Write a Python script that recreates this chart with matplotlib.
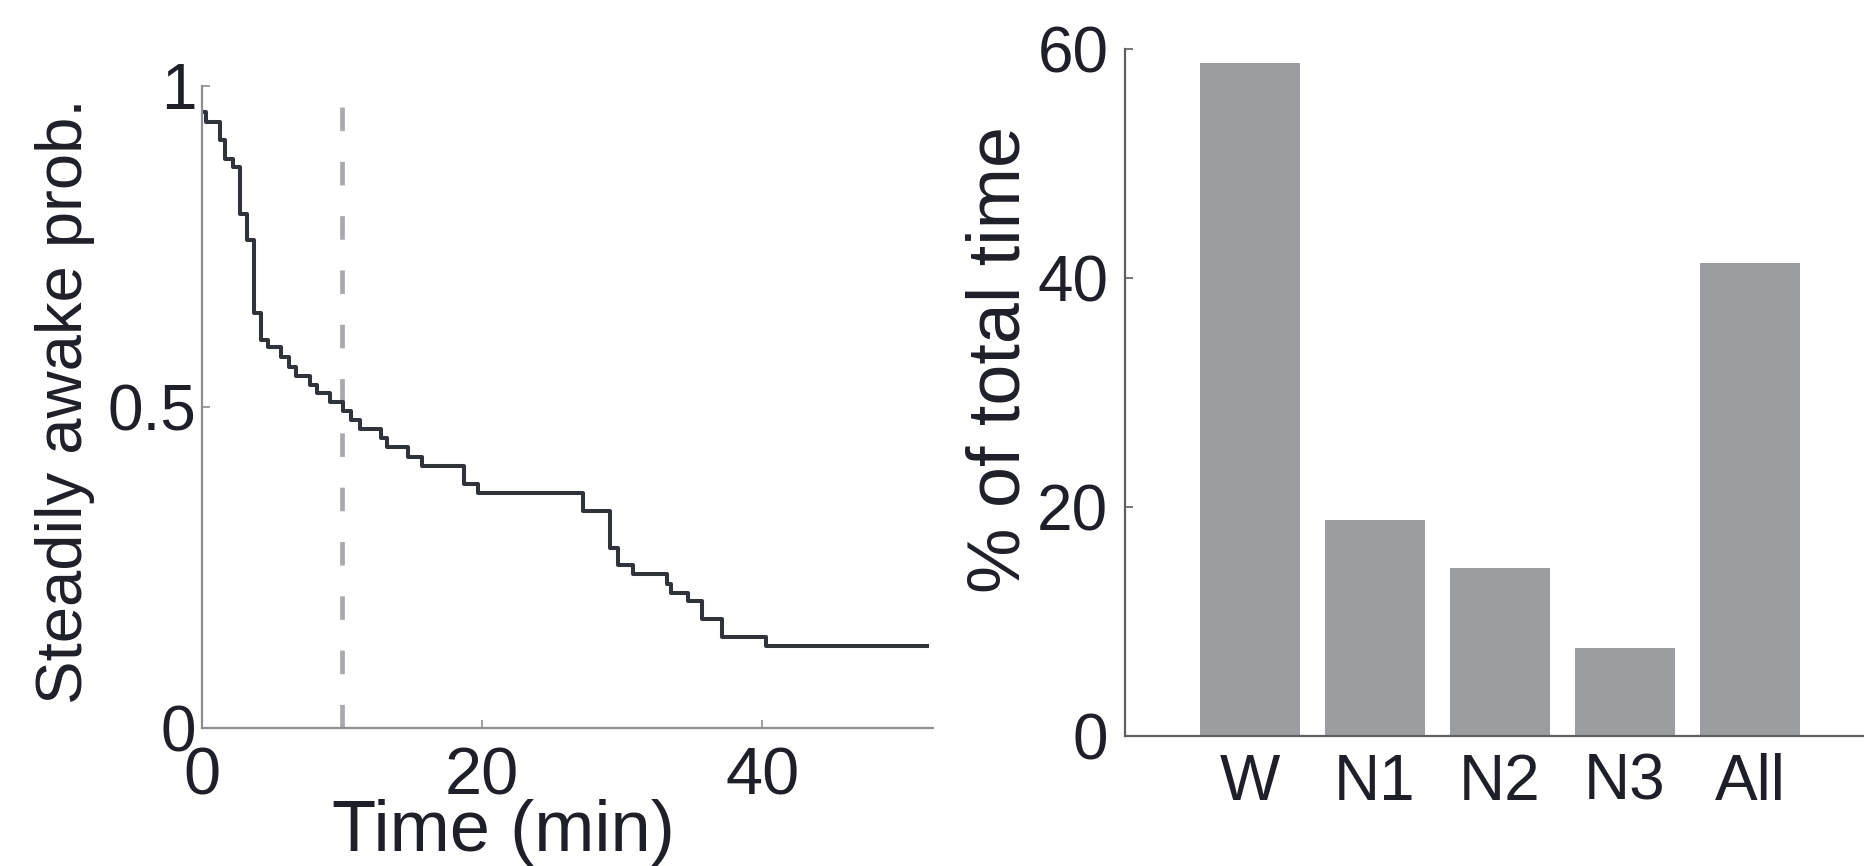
import matplotlib
matplotlib.use("Agg")
import matplotlib.pyplot as plt

plt.rcParams['font.family'] = ['Liberation Sans', 'DejaVu Sans']

# survival curve (step, value holds until next time)
time_min = [0, 0.3, 1.28, 1.64, 2.23, 2.75, 3.18, 3.75, 4.18, 4.72, 5.67, 6.2,
            6.74, 7.73, 8.23, 9.11, 10.06, 10.65, 11.25, 12.75, 13.2, 14.73,
            15.7, 18.72, 19.72, 27.2, 29.16, 29.7, 30.75, 33.19, 33.5, 34.68,
            35.73, 37.15, 40.24, 51.8]
awake_prob = [0.96, 0.944, 0.916, 0.887, 0.874, 0.80, 0.76, 0.647, 0.605,
              0.593, 0.578, 0.563, 0.548, 0.534, 0.521, 0.507, 0.494, 0.48,
              0.465, 0.452, 0.437, 0.422, 0.408, 0.38, 0.366, 0.338, 0.281,
              0.254, 0.24, 0.225, 0.211, 0.197, 0.169, 0.141, 0.127, 0.127]
marker_time = 10

stages = ['W', 'N1', 'N2', 'N3', 'All']
pct_time = [58.8, 18.9, 14.7, 7.7, 41.3]

txt = '#1e1f28'
fig = plt.figure(figsize=(18.65, 8.66), dpi=100)

# left panel
ax1 = fig.add_axes([0.1083, 0.1594, 0.392, 0.7413])
ax1.axvline(marker_time, color='#a9aaae', lw=3.4, dashes=(5, 6.5))
ax1.step(time_min, awake_prob, where='post', color='#30333a', lw=2.9)
ax1.set_xlim(0, 52.2)
ax1.set_ylim(0, 1)
ax1.set_xticks([0, 20, 40])
ax1.set_yticks([0, 0.5, 1])
ax1.set_yticklabels(['0', '0.5', '1'])
for s in ['top', 'right']:
    ax1.spines[s].set_visible(False)
for s in ['left', 'bottom']:
    ax1.spines[s].set_color('#8e8e90')
    ax1.spines[s].set_linewidth(1.6)
ax1.tick_params(direction='in', length=6, width=1.2, color='#8e8e90',
                labelsize=46, labelcolor=txt)
ax1.tick_params(axis='y', pad=4)
ax1.tick_params(axis='x', pad=13, labelsize=48)
fig.text(0.035, 0.537, 'Steadily awake prob.', rotation=90, ha='center',
         va='center', fontsize=47, color=txt)
fig.text(0.27, 0.039, 'Time (min)', ha='center', va='center', fontsize=52,
         color=txt)

# right panel
ax2 = fig.add_axes([0.6032, 0.1501, 0.4021, 0.793])
ax2.bar(range(1, len(stages) + 1), pct_time, width=0.8, color='#9c9da1')
ax2.set_xlim(0, 6)
ax2.set_ylim(0, 60)
ax2.set_xticks(range(1, len(stages) + 1))
ax2.set_xticklabels(stages)
ax2.set_yticks([0, 20, 40, 60])
for s in ['top', 'right']:
    ax2.spines[s].set_visible(False)
for s in ['left', 'bottom']:
    ax2.spines[s].set_color('#5e5f63')
    ax2.spines[s].set_linewidth(1.6)
ax2.tick_params(axis='y', direction='in', length=6, width=1.2,
                color='#5e5f63', labelsize=46, labelcolor=txt, pad=12)
ax2.tick_params(axis='x', length=0, labelsize=46, labelcolor=txt, pad=12)
fig.text(0.536, 0.585, '% of total time', rotation=90, ha='center',
         va='center', fontsize=53, color=txt)

fig.savefig('out.png', dpi=100)
